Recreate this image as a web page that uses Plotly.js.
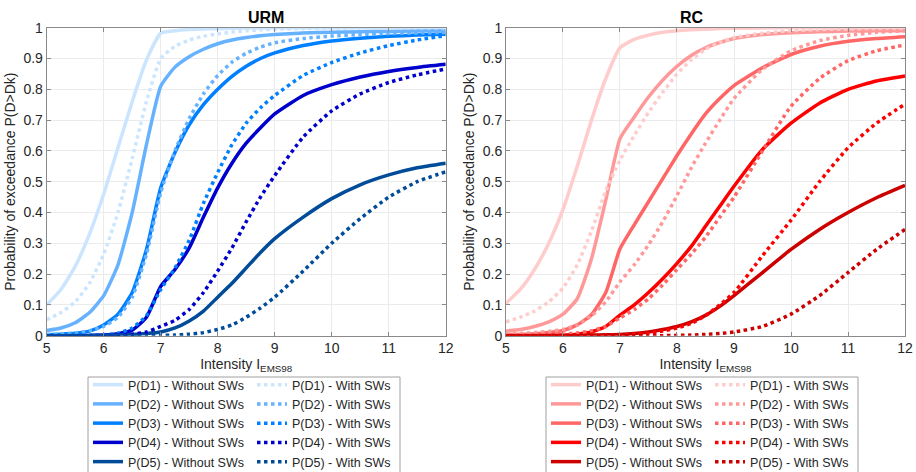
<!DOCTYPE html>
<html>
<head>
<meta charset="utf-8">
<script src="https://cdn.plot.ly/plotly-3.0.1.min.js"></script>
<style>html,body{margin:0;padding:0;background:#fff;}#chart{width:916px;height:472px;}</style>
</head>
<body>
<div id="chart"></div>
<script>
// Intensity grid (EMS-98)
const intensity = [5, 5.25, 5.5, 5.75, 6, 6.25, 6.5, 6.75, 7, 7.25, 7.5, 7.75, 8, 8.25, 8.5, 8.75, 9, 9.5, 10, 10.5, 11, 11.5, 12];

// URM - without SWs
const urmD1 = [0.10, 0.15, 0.225, 0.33, 0.46, 0.61, 0.76, 0.895, 0.982, 0.99, 0.994, 0.996, 0.997, 0.998, 0.999, 0.999, 1, 1, 1, 1, 1, 1, 1];
const urmD2 = [0.017, 0.025, 0.042, 0.075, 0.13, 0.23, 0.40, 0.62, 0.81, 0.872, 0.906, 0.93, 0.948, 0.96, 0.968, 0.974, 0.978, 0.983, 0.985, 0.987, 0.988, 0.989, 0.99];
const urmD3 = [0.003, 0.005, 0.008, 0.015, 0.035, 0.07, 0.14, 0.28, 0.48, 0.595, 0.685, 0.75, 0.80, 0.842, 0.875, 0.90, 0.918, 0.942, 0.957, 0.966, 0.972, 0.976, 0.979];
const urmD4 = [0, 0, 0, 0.001, 0.002, 0.006, 0.018, 0.06, 0.16, 0.215, 0.285, 0.385, 0.48, 0.56, 0.625, 0.675, 0.72, 0.78, 0.815, 0.84, 0.858, 0.871, 0.881];
const urmD5 = [0, 0, 0, 0, 0.001, 0.002, 0.004, 0.007, 0.012, 0.025, 0.048, 0.08, 0.125, 0.17, 0.22, 0.27, 0.315, 0.385, 0.445, 0.49, 0.522, 0.545, 0.56];
// URM - with SWs
const urmD1sw = [0.052, 0.075, 0.11, 0.17, 0.265, 0.40, 0.575, 0.76, 0.90, 0.94, 0.96, 0.972, 0.98, 0.986, 0.99, 0.993, 0.995, 0.997, 0.998, 0.999, 1, 1, 1];
const urmD2sw = [0.004, 0.006, 0.009, 0.016, 0.03, 0.06, 0.125, 0.265, 0.465, 0.60, 0.705, 0.785, 0.845, 0.888, 0.917, 0.937, 0.951, 0.965, 0.973, 0.978, 0.981, 0.983, 0.985];
const urmD3sw = [0, 0, 0.001, 0.002, 0.003, 0.008, 0.025, 0.065, 0.15, 0.22, 0.31, 0.43, 0.53, 0.62, 0.69, 0.74, 0.78, 0.845, 0.887, 0.918, 0.942, 0.96, 0.974];
const urmD4sw = [0, 0, 0, 0, 0.001, 0.002, 0.005, 0.012, 0.03, 0.05, 0.085, 0.14, 0.21, 0.285, 0.37, 0.45, 0.52, 0.645, 0.73, 0.785, 0.822, 0.847, 0.866];
const urmD5sw = [0, 0, 0, 0, 0, 0, 0, 0, 0.001, 0.002, 0.005, 0.01, 0.02, 0.035, 0.06, 0.09, 0.125, 0.21, 0.30, 0.38, 0.45, 0.50, 0.532];

// RC - without SWs
const rcD1 = [0.105, 0.15, 0.215, 0.30, 0.41, 0.55, 0.70, 0.835, 0.935, 0.962, 0.976, 0.985, 0.99, 0.993, 0.995, 0.997, 0.998, 0.999, 1, 1, 1, 1, 1];
const rcD2 = [0.015, 0.02, 0.03, 0.045, 0.07, 0.12, 0.25, 0.44, 0.64, 0.71, 0.775, 0.83, 0.875, 0.91, 0.935, 0.952, 0.965, 0.978, 0.984, 0.987, 0.989, 0.99, 0.99];
const rcD3 = [0.003, 0.004, 0.006, 0.01, 0.017, 0.035, 0.068, 0.14, 0.282, 0.36, 0.435, 0.51, 0.585, 0.655, 0.72, 0.77, 0.812, 0.87, 0.913, 0.94, 0.956, 0.965, 0.971];
const rcD4 = [0, 0, 0, 0.001, 0.002, 0.005, 0.012, 0.03, 0.067, 0.10, 0.14, 0.185, 0.235, 0.29, 0.355, 0.42, 0.485, 0.605, 0.69, 0.755, 0.80, 0.827, 0.843];
const rcD5 = [0, 0, 0, 0, 0.001, 0.001, 0.002, 0.003, 0.004, 0.007, 0.012, 0.02, 0.03, 0.045, 0.066, 0.095, 0.13, 0.205, 0.28, 0.345, 0.40, 0.448, 0.488];
// RC - with SWs
const rcD1sw = [0.045, 0.06, 0.08, 0.11, 0.155, 0.23, 0.34, 0.47, 0.57, 0.65, 0.725, 0.79, 0.85, 0.895, 0.93, 0.952, 0.968, 0.982, 0.99, 0.994, 0.996, 0.998, 0.998];
const rcD2sw = [0.005, 0.007, 0.01, 0.014, 0.02, 0.035, 0.065, 0.11, 0.175, 0.23, 0.295, 0.37, 0.455, 0.545, 0.625, 0.70, 0.77, 0.865, 0.925, 0.958, 0.975, 0.985, 0.99];
const rcD3sw = [0.001, 0.001, 0.002, 0.003, 0.005, 0.009, 0.016, 0.03, 0.058, 0.085, 0.12, 0.165, 0.215, 0.265, 0.32, 0.385, 0.45, 0.60, 0.745, 0.835, 0.893, 0.925, 0.944];
const rcD4sw = [0, 0, 0, 0, 0, 0, 0.001, 0.001, 0.002, 0.004, 0.008, 0.015, 0.025, 0.04, 0.065, 0.10, 0.14, 0.26, 0.375, 0.50, 0.61, 0.69, 0.752];
const rcD5sw = [0, 0, 0, 0, 0, 0, 0, 0, 0, 0, 0, 0, 0.001, 0.002, 0.004, 0.007, 0.012, 0.03, 0.07, 0.13, 0.205, 0.28, 0.345];

const damageLabels = ['P(D1)', 'P(D2)', 'P(D3)', 'P(D4)', 'P(D5)'];
const urmColors = ['#cce5ff', '#66b2ff', '#0080ff', '#0000cc', '#004c99'];
const rcColors = ['#ffcccc', '#ff9999', '#ff6666', '#ff0000', '#cc0000'];
const yTicks = [0, 0.1, 0.2, 0.3, 0.4, 0.5, 0.6, 0.7, 0.8, 0.9, 1];
const yTickText = ['0', '0.1', '0.2', '0.3', '0.4', '0.5', '0.6', '0.7', '0.8', '0.9', '1'];
const xTicks = [5, 6, 7, 8, 9, 10, 11, 12];

const urmWithout = [urmD1, urmD2, urmD3, urmD4, urmD5];
const urmWith = [urmD1sw, urmD2sw, urmD3sw, urmD4sw, urmD5sw];
const rcWithout = [rcD1, rcD2, rcD3, rcD4, rcD5];
const rcWith = [rcD1sw, rcD2sw, rcD3sw, rcD4sw, rcD5sw];

const traces = [];
function addSet(withoutArr, withArr, colors, xa, ya, legA, legB) {
  for (let i = 0; i < 5; i++) {
    traces.push({
      x: intensity, y: withoutArr[i], xaxis: xa, yaxis: ya, legend: legA,
      type: 'scatter', mode: 'lines', name: damageLabels[i] + ' - Without SWs',
      line: {color: colors[i], width: 3.5, shape: 'spline', smoothing: 0.5}
    });
  }
  for (let i = 0; i < 5; i++) {
    traces.push({
      x: intensity, y: withArr[i], xaxis: xa, yaxis: ya, legend: legB,
      type: 'scatter', mode: 'lines', name: damageLabels[i] + ' - With SWs',
      line: {color: colors[i], width: 3.5, dash: 'dot', shape: 'spline', smoothing: 0.5}
    });
  }
}
addSet(urmWithout, urmWith, urmColors, 'x', 'y', 'legend', 'legend3');
addSet(rcWithout, rcWith, rcColors, 'x2', 'y2', 'legend2', 'legend4');

const FAM = 'Liberation Sans, Arial, sans-serif';
const font = {family: FAM, size: 14, color: '#262626'};
function xAxis(domain, anchor) {
  return {
    domain: domain, range: [5, 12], tickvals: xTicks, showgrid: true, gridcolor: '#ebebeb',
    showline: true, linecolor: '#8a8a8a', linewidth: 1, mirror: 'ticks', ticks: 'inside', ticklen: 4,
    tickcolor: '#8a8a8a', zeroline: false, tickfont: font, automargin: false, anchor: anchor,
    title: {text: 'Intensity I<sub>EMS98</sub>', font: font, standoff: 2}
  };
}
function yAxis(domain, anchor) {
  return {
    domain: domain, range: [0, 1], tickvals: yTicks, ticktext: yTickText, showgrid: true, gridcolor: '#ebebeb',
    showline: true, linecolor: '#8a8a8a', linewidth: 1, mirror: 'ticks', ticks: 'inside', ticklen: 4,
    tickcolor: '#8a8a8a', zeroline: false, tickfont: font, automargin: false, anchor: anchor,
    title: {text: 'Probability of exceedance P(D>Dk)', font: font, standoff: 4}
  };
}
const legendTop = 1 - 370 / 472;
const boxTop = 1 - 377 / 472;
const legendBase = {
  orientation: 'v', xanchor: 'left', yanchor: 'top', y: legendTop, itemwidth: 30,
  bgcolor: 'rgba(0,0,0,0)', borderwidth: 0, tracegroupgap: 0,
  font: {family: FAM, size: 12.5, color: '#262626'}
};
const layout = {
  width: 916, height: 472, margin: {l: 0, r: 0, t: 0, b: 0, autoexpand: false},
  paper_bgcolor: '#ffffff', plot_bgcolor: '#ffffff', font: font, showlegend: true,
  xaxis: xAxis([0.0510, 0.4866], 'y'),
  yaxis: yAxis([0.2888, 0.9413], 'x'),
  xaxis2: xAxis([0.5524, 0.9880], 'y2'),
  yaxis2: yAxis([0.2888, 0.9413], 'x2'),
  legend: Object.assign({}, legendBase, {x: 88 / 916}),
  legend3: Object.assign({}, legendBase, {x: 252 / 916}),
  legend2: Object.assign({}, legendBase, {x: 546 / 916}),
  legend4: Object.assign({}, legendBase, {x: 710 / 916}),
  shapes: [
    {type: 'rect', xref: 'paper', yref: 'paper', x0: 88 / 916, x1: 400 / 916, y0: -0.01, y1: boxTop,
     line: {color: '#a0a0a0', width: 1}, fillcolor: 'rgba(0,0,0,0)', layer: 'below'},
    {type: 'rect', xref: 'paper', yref: 'paper', x0: 546 / 916, x1: 858 / 916, y0: -0.01, y1: boxTop,
     line: {color: '#a0a0a0', width: 1}, fillcolor: 'rgba(0,0,0,0)', layer: 'below'}
  ],
  annotations: [
    {text: '<b>URM</b>', x: 0.2688, y: 1 - 17 / 472, yanchor: 'middle', xref: 'paper', yref: 'paper', showarrow: false, font: {family: FAM, size: 16, color: '#000'}},
    {text: '<b>RC</b>', x: 0.7702, y: 1 - 17 / 472, yanchor: 'middle', xref: 'paper', yref: 'paper', showarrow: false, font: {family: FAM, size: 16, color: '#000'}}
  ]
};
Plotly.newPlot('chart', traces, layout, {displayModeBar: false, staticPlot: true});
</script>
</body>
</html>
